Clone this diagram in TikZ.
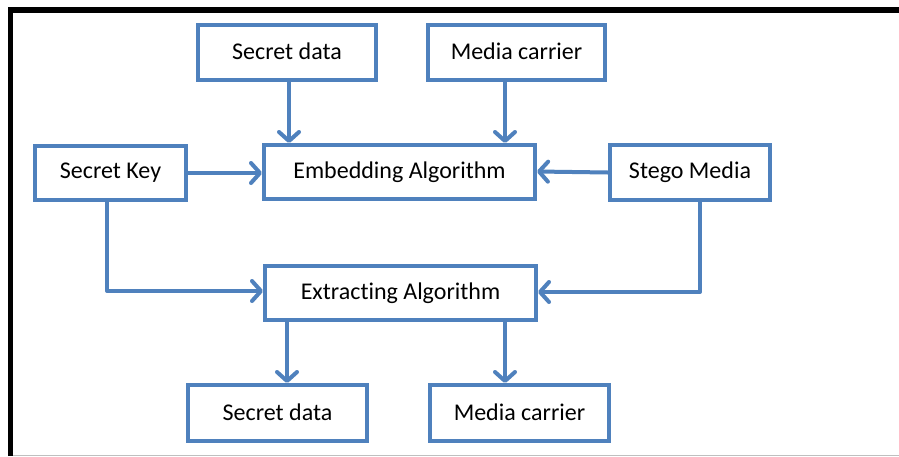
\documentclass[tikz,border=0pt]{standalone}
\usepackage{fontspec}
\setmainfont[Ligatures={NoCommon}]{Carlito}
\usetikzlibrary{arrows.meta,calc}
\definecolor{obl}{HTML}{4F81BD}
\begin{document}
\begin{tikzpicture}[x=1pt,y=-1pt,
  box/.style={draw=obl,line width=4pt,fill=white,inner sep=0pt,font=\fontsize{24}{27}\selectfont,text=black},
  arr/.style={draw=obl,line width=4pt,line cap=round,line join=round,-{Straight Barb[length=9pt,width=20pt,line cap=round,line join=round]}}]
\useasboundingbox (0,0) rectangle (899,456);
\fill[white] (0,0) rectangle (899,456);
% frame
\draw[black!25,line width=1pt] (10,455.5) -- (899,455.5);
\draw[black,line width=5.5pt] (10.5,456) -- (10.5,10) -- (899,10);
% boxes
\node[box,minimum width=178pt,minimum height=55pt] (sd1) at (287,52.5) {\raisebox{2pt}{Secret data}};
\node[box,minimum width=177pt,minimum height=55pt] (mc1) at (516.5,52.5) {\raisebox{2pt}{Media carrier}};
\node[box,minimum width=271pt,minimum height=54pt] (emb) at (399.5,172) {\raisebox{3pt}{Embedding Algorithm}};
\node[box,minimum width=151pt,minimum height=54pt] (sk) at (110.5,173) {\raisebox{2pt}{Secret Key}};
\node[box,minimum width=160pt,minimum height=55pt] (sm) at (690,172.5) {\raisebox{2pt}{Stego Media}};
\node[box,minimum width=271pt,minimum height=54pt] (ext) at (400.5,293) {\raisebox{2pt}{Extracting Algorithm}};
\node[box,minimum width=179pt,minimum height=56pt] (sd2) at (277.5,413) {\raisebox{2pt}{Secret data}};
\node[box,minimum width=179pt,minimum height=56pt] (mc2) at (519.5,413) {\raisebox{2pt}{Media carrier}};
% connectors
\draw[arr] ([xshift=2pt]sd1.south) -- ([xshift=2pt]sd1.south |- emb.north);
\draw[arr] ([xshift=-11.5pt]mc1.south) -- ([xshift=-11.5pt]mc1.south |- emb.north);
\draw[arr] (sk.east) -- (sk.east -| emb.west);
\draw[arr] (sm.west) -- ([yshift=1pt]sm.west -| emb.east);
\draw[arr] ([xshift=-3.5pt]sk.south) |- ([yshift=2pt]ext.west);
\draw[arr] ([xshift=10pt]sm.south) |- ([yshift=1pt]ext.east);
\draw[arr] ([xshift=-113.5pt]ext.south) -- ([xshift=-113.5pt]ext.south |- sd2.north);
\draw[arr] ([xshift=104.5pt]ext.south) -- ([xshift=104.5pt]ext.south |- mc2.north);
\end{tikzpicture}
\end{document}
